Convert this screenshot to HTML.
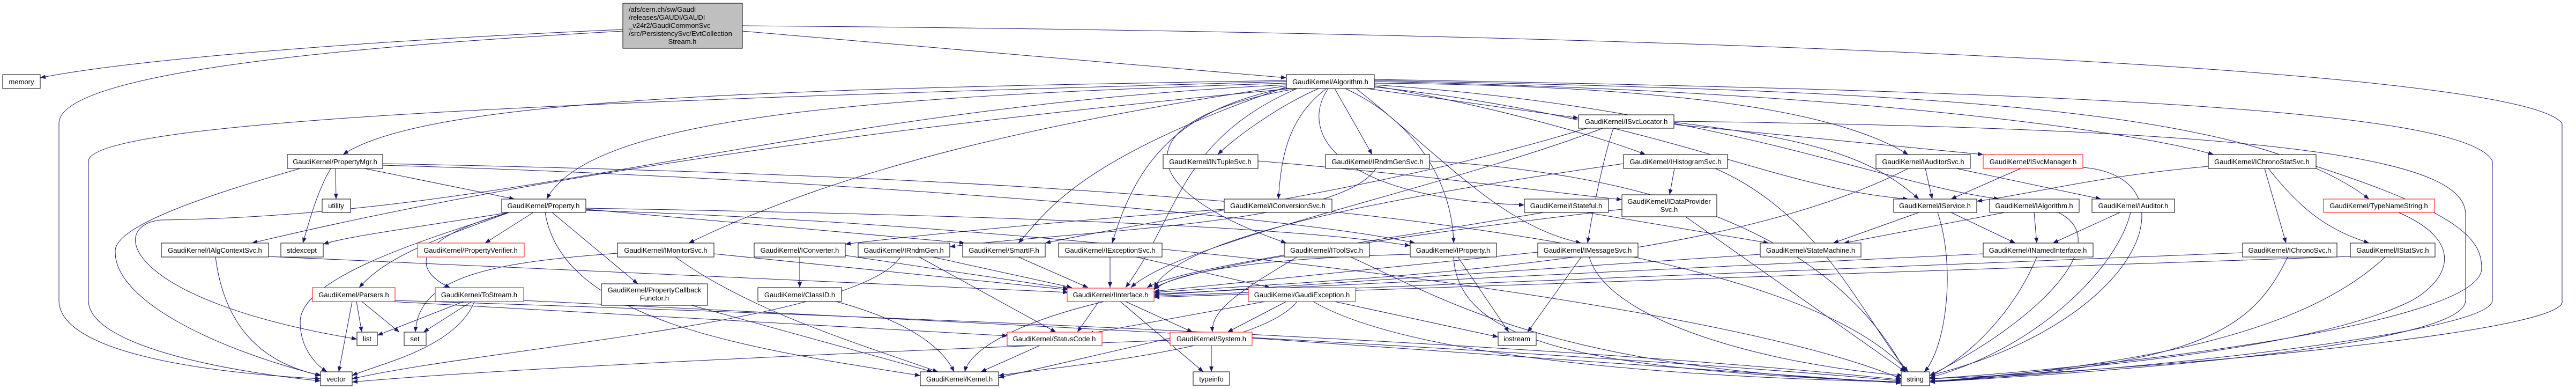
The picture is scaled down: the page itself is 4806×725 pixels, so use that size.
<!DOCTYPE html>
<html><head><meta charset="utf-8"><style>
html,body{margin:0;padding:0;background:#fff;}
svg{display:block;}
text{font-family:"Liberation Sans",sans-serif;font-size:13px;fill:#000;}
.e{fill:none;stroke:#191970;stroke-width:1;marker-end:url(#a);}
.n{fill:#fff;stroke:#000;stroke-width:1;}
.r{fill:#fff;stroke:#ff0000;stroke-width:1;}
</style></head><body>
<svg width="4806" height="725" viewBox="0 0 4806 725" xmlns="http://www.w3.org/2000/svg">
<defs><marker id="a" markerUnits="userSpaceOnUse" markerWidth="10" markerHeight="8" refX="10" refY="4" orient="auto"><path d="M0,0 L10,4 L0,8 z" fill="#191970"/></marker></defs>
<g>
<path class="e" d="M1162,55 C700,75 250,110 75,145"/>
<path class="e" d="M1162,58 C400,100 110,160 110,230 L110,560 C110,640 300,690 598,706"/>
<path class="e" d="M1385,58 L2400,145"/>
<path class="e" d="M1385,48 C3000,60 4700,120 4780,230 L4780,560 C4800,620 4000,690 3600,706"/>
<path class="e" d="M2400,150 C1500,165 800,180 640,288"/>
<path class="e" d="M2400,155 C1600,180 1100,220 1020,371"/>
<path class="e" d="M2400,152 C1200,185 170,220 165,300 L165,560 C165,640 400,690 598,710"/>
<path class="e" d="M2410,165 C1500,250 900,350 470,453"/>
<path class="e" d="M2400,158 C1500,200 1000,400 300,410 C200,420 230,560 666,632"/>
<path class="e" d="M2460,165 C2380,200 2300,260 2272,288"/>
<path class="e" d="M2490,165 L2560,288"/>
<path class="e" d="M2475,165 C2400,220 2390,300 2385,371"/>
<path class="e" d="M2478,165 C2420,250 2500,370 2844,382"/>
<path class="e" d="M2410,162 C2200,200 2120,300 2075,453"/>
<path class="e" d="M2420,165 C2100,220 2100,350 2400,453"/>
<path class="e" d="M2510,165 C2650,230 2710,350 2712,453"/>
<path class="e" d="M2550,165 L2945,220"/>
<path class="e" d="M2564,160 C2800,200 3000,260 3070,288"/>
<path class="e" d="M2564,155 C3200,160 3450,220 3560,288"/>
<path class="e" d="M2564,162 C3100,220 3300,350 3560,371"/>
<path class="e" d="M2564,158 C3200,200 3500,340 3730,371"/>
<path class="e" d="M2564,152 C3500,170 4000,250 4130,288"/>
<path class="e" d="M2564,150 C3600,170 4200,200 4420,371"/>
<path class="e" d="M2400,160 C2000,220 1600,300 1285,453"/>
<path class="e" d="M2564,148 C3800,170 4600,200 4650,300 L4650,560 C4650,620 4000,690 3600,710"/>
<path class="e" d="M2420,165 C2200,260 2200,400 2100,536"/>
<path class="e" d="M2400,162 C2000,300 1950,400 1900,453"/>
<path class="e" d="M2530,165 C2700,300 2800,420 2950,453"/>
<path class="e" d="M2990,239 C2700,350 2200,450 2110,536"/>
<path class="e" d="M3123,232 L3700,288"/>
<path class="e" d="M3123,228 C3400,260 3500,300 3580,371"/>
<path class="e" d="M3123,226 C4300,240 4600,300 4600,400 L4600,560 C4600,640 4000,690 3600,712"/>
<path class="e" d="M2960,239 C2600,350 2200,400 1950,453"/>
<path class="e" d="M3010,239 C2990,300 2970,400 2962,453"/>
<path class="e" d="M626,314 L627,371"/>
<path class="e" d="M617,314 C590,360 575,420 565,453"/>
<path class="e" d="M560,314 C400,360 210,420 215,470 C215,560 400,650 598,700"/>
<path class="e" d="M680,314 L960,371"/>
<path class="e" d="M714,308 C1500,330 2400,400 2640,453"/>
<path class="e" d="M714,305 C2000,330 3300,400 3560,693"/>
<path class="e" d="M950,396 C800,420 650,440 603,455"/>
<path class="e" d="M995,396 L905,453"/>
<path class="e" d="M950,396 C800,450 720,480 670,536"/>
<path class="e" d="M950,396 C750,450 780,510 840,536"/>
<path class="e" d="M1030,396 L1190,529"/>
<path class="e" d="M1017,396 C1050,600 1400,650 1717,700"/>
<path class="e" d="M936,400 C780,450 560,520 560,600 C560,650 590,680 610,693"/>
<path class="e" d="M1093,388 C1800,400 2400,420 2631,458"/>
<path class="e" d="M1093,390 L1800,453"/>
<path class="e" d="M1093,392 C2000,420 3200,560 3547,706"/>
<path class="e" d="M665,562 L675,619"/>
<path class="e" d="M675,562 L745,619"/>
<path class="e" d="M657,562 L632,693"/>
<path class="e" d="M730,562 L1880,626"/>
<path class="e" d="M737,560 C2000,600 3000,650 3547,708"/>
<path class="e" d="M865,562 L704,625"/>
<path class="e" d="M880,562 L790,619"/>
<path class="e" d="M885,562 C850,650 700,680 657,700"/>
<path class="e" d="M977,560 C2000,610 3000,660 3547,710"/>
<path class="e" d="M402,479 C420,620 500,680 600,700"/>
<path class="e" d="M501,478 L1993,545"/>
<path class="e" d="M1332,473 L1993,540"/>
<path class="e" d="M1260,479 C1400,580 1600,640 1750,693"/>
<path class="e" d="M1152,472 C900,490 780,520 775,619"/>
<path class="e" d="M1492,479 L1492,536"/>
<path class="e" d="M1577,476 L1993,538"/>
<path class="e" d="M1740,479 L2000,536"/>
<path class="e" d="M1680,479 C1600,600 900,650 657,706"/>
<path class="e" d="M1715,479 L1970,619"/>
<path class="e" d="M1900,479 L2030,536"/>
<path class="e" d="M2071,479 L2071,536"/>
<path class="e" d="M2120,479 L2370,536"/>
<path class="e" d="M1560,562 C1700,600 1760,650 1780,693"/>
<path class="e" d="M1290,569 L1740,693"/>
<path class="e" d="M2050,562 L2010,619"/>
<path class="e" d="M2100,562 L2225,619"/>
<path class="e" d="M2090,562 L2245,693"/>
<path class="e" d="M2060,562 C1900,600 1810,650 1800,693"/>
<path class="e" d="M2360,562 L2030,622"/>
<path class="e" d="M2400,562 L2290,619"/>
<path class="e" d="M2490,562 L2795,628"/>
<path class="e" d="M2420,562 C2350,650 2000,680 1863,700"/>
<path class="e" d="M2450,562 C2600,650 3000,700 3547,712"/>
<path class="e" d="M1940,644 L1830,693"/>
<path class="e" d="M2184,630 L1863,704"/>
<path class="e" d="M2260,644 L2260,693"/>
<path class="e" d="M2184,634 C1500,660 900,690 657,712"/>
<path class="e" d="M2336,630 L3547,714"/>
<path class="e" d="M2347,300 C2700,330 2900,360 3026,372"/>
<path class="e" d="M2567,314 C2500,420 2000,430 1772,460"/>
<path class="e" d="M2667,300 C3000,320 3400,400 3555,693"/>
<path class="e" d="M2284,390 C2000,410 1700,440 1577,455"/>
<path class="e" d="M2880,396 C2500,460 2200,500 2140,536"/>
<path class="e" d="M2960,396 L3300,453"/>
<path class="e" d="M2420,479 C2300,550 2260,580 2262,619"/>
<path class="e" d="M2520,479 C2700,560 2900,690 3547,712"/>
<path class="e" d="M2631,474 C2400,480 2200,500 2153,540"/>
<path class="e" d="M2720,479 L2815,619"/>
<path class="e" d="M2712,479 C2720,650 3000,690 3547,712"/>
<path class="e" d="M2950,479 L2850,619"/>
<path class="e" d="M2869,470 L2153,543"/>
<path class="e" d="M2965,479 C3000,600 3300,680 3550,700"/>
<path class="e" d="M3124,314 L3115,363"/>
<path class="e" d="M3200,314 C3400,400 3480,600 3560,693"/>
<path class="e" d="M3029,305 C2500,380 2200,450 2153,536"/>
<path class="e" d="M3145,404 L3555,693"/>
<path class="e" d="M3026,390 C2600,440 2200,500 2153,538"/>
<path class="e" d="M3592,314 L3605,371"/>
<path class="e" d="M3650,314 L3920,371"/>
<path class="e" d="M3560,314 C3200,500 2500,520 2153,545"/>
<path class="e" d="M3770,314 L3640,371"/>
<path class="e" d="M3886,312 C4100,330 4000,600 3600,700"/>
<path class="e" d="M3580,396 L3420,453"/>
<path class="e" d="M3640,396 L3760,453"/>
<path class="e" d="M3615,396 C3650,500 3630,650 3590,693"/>
<path class="e" d="M3795,396 L3800,453"/>
<path class="e" d="M3740,396 L3440,453"/>
<path class="e" d="M3840,396 C3950,450 3800,600 3600,700"/>
<path class="e" d="M3955,396 L3830,453"/>
<path class="e" d="M3975,396 C3950,500 3800,650 3600,704"/>
<path class="e" d="M3800,479 C3750,600 3650,680 3600,700"/>
<path class="e" d="M3700,473 L2153,548"/>
<path class="e" d="M3284,474 L2153,550"/>
<path class="e" d="M4225,314 L4265,453"/>
<path class="e" d="M4232,314 C4300,400 4350,430 4420,453"/>
<path class="e" d="M4120,310 C3900,330 3800,360 3688,375"/>
<path class="e" d="M4321,310 C4600,400 4630,450 4630,500 C4630,600 4000,680 3600,706"/>
<path class="e" d="M4475,396 C4600,450 4570,520 4500,560 C4300,660 3800,690 3600,712"/>
<path class="e" d="M4268,479 C4200,620 4100,680 3600,712"/>
<path class="e" d="M4184,471 L2153,552"/>
<path class="e" d="M4450,479 C4300,620 4000,680 3600,712"/>
<path class="e" d="M4385,478 L2153,554"/>
</g>
<g>
<rect x="1162" y="6" width="223" height="84" fill="#bfbfbf" stroke="#000"/>
<text x="1173" y="22">/afs/cern.ch/sw/Gaudi</text>
<text x="1173" y="37">/releases/GAUDI/GAUDI</text>
<text x="1173" y="52">_v24r2/GaudiCommonSvc</text>
<text x="1173" y="67">/src/PersistencySvc/EvtCollection</text>
<text x="1273" y="82" text-anchor="middle">Stream.h</text>
</g>
<g text-anchor="middle">
<rect class="n" x="5" y="139" width="70" height="26"/><text x="40" y="157">memory</text>
<rect class="n" x="2400" y="139" width="164" height="26"/><text x="2482" y="157">GaudiKernel/Algorithm.h</text>
<rect class="n" x="2945" y="214" width="178" height="25"/><text x="3034" y="231">GaudiKernel/ISvcLocator.h</text>
<rect class="n" x="536" y="288" width="178" height="26"/><text x="625" y="306">GaudiKernel/PropertyMgr.h</text>
<rect class="n" x="2170" y="288" width="177" height="26"/><text x="2258" y="306">GaudiKernel/INTupleSvc.h</text>
<rect class="n" x="2473" y="288" width="194" height="26"/><text x="2570" y="306">GaudiKernel/IRndmGenSvc.h</text>
<rect class="n" x="3029" y="288" width="194" height="26"/><text x="3126" y="306">GaudiKernel/IHistogramSvc.h</text>
<rect class="n" x="3500" y="288" width="176" height="26"/><text x="3588" y="306">GaudiKernel/IAuditorSvc.h</text>
<rect class="r" x="3700" y="288" width="186" height="26"/><text x="3793" y="306">GaudiKernel/ISvcManager.h</text>
<rect class="n" x="4120" y="288" width="201" height="26"/><text x="4220" y="306">GaudiKernel/IChronoStatSvc.h</text>
<rect class="n" x="601" y="371" width="53" height="25"/><text x="627" y="388">utility</text>
<rect class="n" x="936" y="371" width="157" height="25"/><text x="1014" y="388">GaudiKernel/Property.h</text>
<rect class="n" x="2284" y="371" width="201" height="25"/><text x="2384" y="388">GaudiKernel/IConversionSvc.h</text>
<rect class="n" x="2844" y="371" width="157" height="25"/><text x="2922" y="388">GaudiKernel/IStateful.h</text>
<rect class="n" x="3026" y="363" width="177" height="41"/><text x="3114" y="380">GaudiKernel/IDataProvider</text><text x="3114" y="395">Svc.h</text>
<rect class="n" x="3533" y="371" width="155" height="25"/><text x="3610" y="388">GaudiKernel/IService.h</text>
<rect class="n" x="3712" y="371" width="167" height="25"/><text x="3795" y="388">GaudiKernel/IAlgorithm.h</text>
<rect class="n" x="3903" y="371" width="154" height="25"/><text x="3980" y="388">GaudiKernel/IAuditor.h</text>
<rect class="r" x="4335" y="371" width="207" height="25"/><text x="4438" y="388">GaudiKernel/TypeNameString.h</text>
<rect class="n" x="301" y="453" width="200" height="26"/><text x="401" y="471">GaudiKernel/IAlgContextSvc.h</text>
<rect class="n" x="524" y="453" width="79" height="26"/><text x="563" y="471">stdexcept</text>
<rect class="r" x="779" y="453" width="199" height="26"/><text x="878" y="471">GaudiKernel/PropertyVerifier.h</text>
<rect class="n" x="1152" y="453" width="180" height="26"/><text x="1242" y="471">GaudiKernel/IMonitorSvc.h</text>
<rect class="n" x="1407" y="453" width="170" height="26"/><text x="1492" y="471">GaudiKernel/IConverter.h</text>
<rect class="n" x="1601" y="453" width="171" height="26"/><text x="1686" y="471">GaudiKernel/IRndmGen.h</text>
<rect class="n" x="1796" y="453" width="154" height="26"/><text x="1873" y="471">GaudiKernel/SmartIF.h</text>
<rect class="n" x="1975" y="453" width="193" height="26"/><text x="2071" y="471">GaudiKernel/IExceptionSvc.h</text>
<rect class="n" x="2396" y="453" width="159" height="26"/><text x="2475" y="471">GaudiKernel/IToolSvc.h</text>
<rect class="n" x="2631" y="453" width="161" height="26"/><text x="2711" y="471">GaudiKernel/IProperty.h</text>
<rect class="n" x="2869" y="453" width="187" height="26"/><text x="2962" y="471">GaudiKernel/IMessageSvc.h</text>
<rect class="n" x="3284" y="453" width="188" height="26"/><text x="3378" y="471">GaudiKernel/StateMachine.h</text>
<rect class="n" x="3700" y="453" width="205" height="26"/><text x="3802" y="471">GaudiKernel/INamedInterface.h</text>
<rect class="n" x="4184" y="453" width="176" height="26"/><text x="4272" y="471">GaudiKernel/IChronoSvc.h</text>
<rect class="n" x="4385" y="453" width="158" height="26"/><text x="4464" y="471">GaudiKernel/IStatSvc.h</text>
<rect class="r" x="583" y="536" width="154" height="26"/><text x="660" y="554">GaudiKernel/Parsers.h</text>
<rect class="r" x="812" y="536" width="165" height="26"/><text x="894" y="554">GaudiKernel/ToStream.h</text>
<rect class="n" x="1122" y="529" width="198" height="40"/><text x="1221" y="545">GaudiKernel/PropertyCallback</text><text x="1221" y="560">Functor.h</text>
<rect class="n" x="1414" y="536" width="156" height="26"/><text x="1492" y="554">GaudiKernel/ClassID.h</text>
<rect class="r" x="1991" y="537" width="162" height="25"/><text x="2072" y="554">GaudiKernel/IInterface.h</text>
<rect class="r" x="2329" y="536" width="200" height="26"/><text x="2429" y="554">GaudiKernel/GaudiException.h</text>
<rect class="n" x="666" y="619" width="38" height="25"/><text x="685" y="636">list</text>
<rect class="n" x="754" y="619" width="41" height="25"/><text x="774" y="636">set</text>
<rect class="r" x="1879" y="619" width="177" height="25"/><text x="1967" y="636">GaudiKernel/StatusCode.h</text>
<rect class="r" x="2183" y="619" width="153" height="25"/><text x="2260" y="636">GaudiKernel/System.h</text>
<rect class="n" x="2795" y="619" width="71" height="25"/><text x="2830" y="636">iostream</text>
<rect class="n" x="598" y="693" width="59" height="26"/><text x="627" y="711">vector</text>
<rect class="n" x="1717" y="693" width="146" height="26"/><text x="1790" y="711">GaudiKernel/Kernel.h</text>
<rect class="n" x="2226" y="693" width="68" height="25"/><text x="2260" y="711">typeinfo</text>
<rect class="n" x="3547" y="693" width="53" height="26"/><text x="3573" y="711">string</text>
</g>
</svg>
</body></html>
